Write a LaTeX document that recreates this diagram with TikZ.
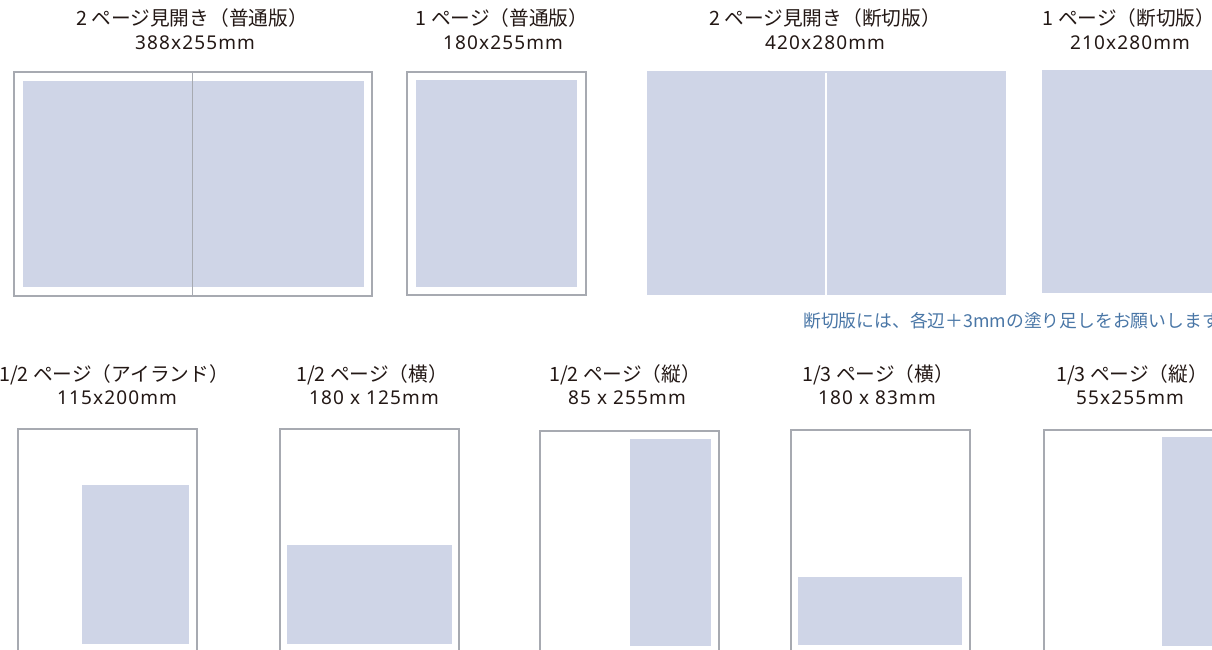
\documentclass[tikz,border=0pt]{standalone}
\usepackage{fontspec}
\setmainfont{Noto Sans CJK JP}
\newfontfamily\latfont[LetterSpace=6]{Noto Sans}
\definecolor{pagefill}{HTML}{CFD5E7}
\definecolor{framegray}{HTML}{A7AAB1}
\definecolor{ink}{HTML}{231815}
\definecolor{notecol}{HTML}{4976A6}
\tikzset{
  frameline/.style={draw=framegray, line width=2pt},
  adarea/.style={fill=pagefill},
  titletext/.style={font=\fontsize{19.7}{23}\selectfont, text=ink, anchor=base, inner sep=0pt},
  sizetext/.style={font=\latfont\fontsize{19}{22}\selectfont, text=ink, anchor=base, inner sep=0pt},
  notetext/.style={font=\fontsize{17.8}{21}\selectfont, text=notecol, anchor=base west, inner sep=0pt}
}
\begin{document}
\begin{tikzpicture}[x=1pt,y=-1pt]
\useasboundingbox (0,0) rectangle (1212,649);

% ---------- top row ----------
% 2-page spread (normal)
\fill[adarea] (22.7,80.7) rectangle (364,287.3);
\draw[frameline] (13.5,72) rectangle (371.8,295.8);
\coordinate (s1top) at (192.3,72);
\coordinate (s1bot) at (192.3,295.8);
\draw[draw=framegray, line width=1.5pt] (s1top) -- (s1bot);
\node[titletext] (t1a) at (192,25.5) {2 ページ見開き（普通版）};
\node[sizetext] (t1b) at (195,49.5) {388x255mm};

% 1 page (normal)
\fill[adarea] (416,80) rectangle (577,287);
\draw[frameline] (407,72) rectangle (586,295);
\node[titletext] (t2a) at (502,25.5) {1 ページ（普通版）};
\node[sizetext] (t2b) at (503,49.5) {180x255mm};

% 2-page spread (bleed)
\fill[adarea] (647,71) rectangle (1006,295);
\coordinate (s3top) at (826,73);
\coordinate (s3bot) at (826,295);
\draw[white, line width=2.5pt] (s3top) -- (s3bot);
\node[titletext] (t3a) at (825,25.5) {2 ページ見開き（断切版）};
\node[sizetext] (t3b) at (825,49.5) {420x280mm};

% 1 page (bleed)
\fill[adarea] (1042,70) rectangle (1230,293);
\node[titletext] (t4a) at (1129,25.5) {1 ページ（断切版）};
\node[sizetext] (t4b) at (1130,49.5) {210x280mm};

% note
\node[notetext] (note) at (803,327) {断切版には、各辺＋3mmの塗り足しをお願いします};

% ---------- bottom row ----------
% 1/2 island
\draw[frameline] (17.5,429) rectangle (196.5,662);
\fill[adarea] (82,485) rectangle (189,644);
\node[titletext] (b1a) at (114,381) {1/2 ページ（アイランド）};
\node[sizetext] (b1b) at (117,404) {115x200mm};

% 1/2 horizontal
\draw[frameline] (279.5,429) rectangle (458.5,662);
\fill[adarea] (287,545) rectangle (452,644);
\node[titletext] (b2a) at (372,381) {1/2 ページ（横）};
\node[sizetext] (b2b) at (374,404) {180 x 125mm};

% 1/2 vertical
\draw[frameline] (539.5,431) rectangle (718.5,662);
\fill[adarea] (630,439) rectangle (711,646);
\node[titletext] (b3a) at (625,381) {1/2 ページ（縦）};
\node[sizetext] (b3b) at (627,404) {85 x 255mm};

% 1/3 horizontal
\draw[frameline] (790.5,430) rectangle (969.5,662);
\fill[adarea] (798,577) rectangle (962,645);
\node[titletext] (b4a) at (878,381) {1/3 ページ（横）};
\node[sizetext] (b4b) at (877,404) {180 x 83mm};

% 1/3 vertical
\draw[frameline] (1043.5,430) rectangle (1222.5,662);
\fill[adarea] (1162,437) rectangle (1215,646);
\node[titletext] (b5a) at (1132,381) {1/3 ページ（縦）};
\node[sizetext] (b5b) at (1130,404) {55x255mm};
\end{tikzpicture}
\end{document}
